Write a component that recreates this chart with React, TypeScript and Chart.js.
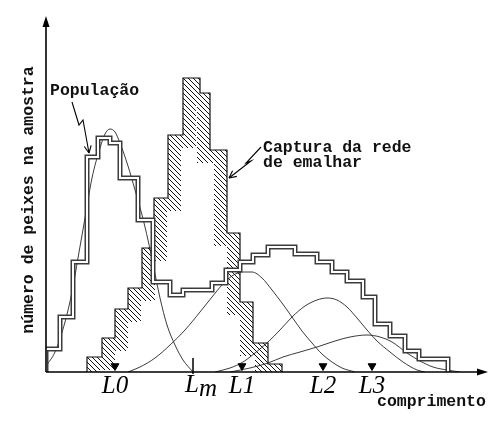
import React, { useEffect, useRef } from "react";
import { Chart, registerables } from "chart.js";

Chart.register(...registerables);

// ---- data (x = comprimento units, y = número de peixes units) ----
const popEdges = [0, 14, 27, 41, 52, 64, 74, 92, 107, 124, 137, 166, 180, 194, 207, 222, 249, 271, 286, 301, 317, 329, 344, 359, 373, 402];
const popCounts = [23, 55, 110, 215, 234, 229, 194, 152, 90, 77, 82, 89, 102, 110, 117, 125, 118, 110, 100, 91, 75, 48, 36, 21, 13];

const catchEdges = [41, 56, 69, 82, 96, 108, 122, 137, 154, 164, 181, 194, 207, 222, 236];
const catchCounts = [15, 34, 63, 84, 124, 174, 237, 294, 279, 222, 139, 70, 29, 8];

const cohort0X = [0, 9, 19, 26, 32, 39, 46, 54, 59, 64, 69, 74, 82, 89, 96, 102, 107, 114, 121, 129, 137, 147];
const cohort0Y = [6, 20, 50, 80, 114, 154, 194, 224, 238, 243, 240, 229, 206, 182, 157, 132, 108, 74, 47, 27, 12, 0];

const cohort1X = [82, 94, 109, 124, 139, 154, 166, 176, 186, 196, 206, 216, 226, 236, 246, 256, 266, 276, 286, 296, 309];
const cohort1Y = [0, 5, 14, 27, 42, 60, 75, 87, 96, 100, 100, 94, 82, 69, 55, 41, 29, 18, 10, 4, 0];

const cohort2X = [169, 184, 197, 209, 222, 234, 246, 259, 271, 281, 291, 301, 311, 321, 331, 344, 357, 371, 379];
const cohort2Y = [0, 4, 10, 19, 30, 42, 55, 66, 72, 74, 72, 65, 54, 42, 31, 20, 10, 2, 0];

const cohort3X = [184, 204, 222, 237, 254, 271, 289, 304, 321, 334, 346, 361, 374, 387, 401, 414];
const cohort3Y = [0, 4, 9, 15, 20, 25, 31, 35, 37, 35, 30, 19, 11, 5, 2, 0];

const markerLabels = ["L0", "L1", "L2", "L3"];
const markerX = [69, 196, 277, 326];
const lmX = 147;

const popArrowX = [26, 33, 37, 43];
const popArrowY = [270, 247, 252, 219];
const capArrowX = [215, 200, 205, 183];
const capArrowY = [225, 209, 211, 194];

const X_MAX = 442;
const Y_MAX = 356;

// points for a "step before" line: each count holds from its left edge to the next edge
function stepPoints(edges: number[], counts: number[]) {
  const d = [{ x: edges[0], y: 0 }, { x: edges[0], y: counts[0] }];
  counts.forEach((c, i) => d.push({ x: edges[i + 1], y: i + 1 < counts.length ? counts[i + 1] : 0 }));
  return d;
}
function curvePoints(xs: number[], ys: number[]) {
  return xs.map((x, i) => ({ x, y: ys[i] }));
}

export default function App() {
  const ref = useRef<HTMLCanvasElement>(null);

  useEffect(() => {
    const canvas = ref.current!;
    const mainCtx = canvas.getContext("2d")!;
    const tile = document.createElement("canvas");
    tile.width = 5;
    tile.height = 5;
    const g = tile.getContext("2d")!;
    g.strokeStyle = "#111";
    g.lineWidth = 1;
    g.beginPath();
    for (const k of [-1, 0, 1]) {
      g.moveTo(k * 5, 0);
      g.lineTo(k * 5 + 5, 5);
    }
    g.stroke();
    const hatch = mainCtx.createPattern(tile, "repeat")!;

    const hatchPlugin = {
      id: "hatchBand",
      beforeDatasetDraw(chart: any, args: any) {
        if (args.index !== 0) return;
        const pts = args.meta.data;
        const ctx = chart.ctx;
        const y0 = chart.scales.y.getPixelForValue(0);
        const path = new Path2D();
        path.moveTo(pts[0].x, pts[0].y);
        for (let i = 1; i < pts.length; i++) {
          path.lineTo(pts[i].x, pts[i - 1].y);
          path.lineTo(pts[i].x, pts[i].y);
        }
        const clip = new Path2D(path);
        clip.lineTo(pts[pts.length - 1].x, y0);
        clip.lineTo(pts[0].x, y0);
        clip.closePath();
        ctx.save();
        ctx.clip(clip);
        ctx.strokeStyle = hatch;
        ctx.lineWidth = 26;
        ctx.lineJoin = "miter";
        ctx.stroke(path);
        ctx.restore();
      },
    };

    const drawArrow = (ctx: CanvasRenderingContext2D, chart: any, xs: number[], ys: number[]) => {
      const sx = chart.scales.x, sy = chart.scales.y;
      const p = xs.map((x, i) => [sx.getPixelForValue(x), sy.getPixelForValue(ys[i])]);
      ctx.beginPath();
      ctx.moveTo(p[0][0], p[0][1]);
      for (let i = 1; i < p.length; i++) ctx.lineTo(p[i][0], p[i][1]);
      ctx.stroke();
      const a = p[p.length - 1], b = p[p.length - 2];
      const ang = Math.atan2(a[1] - b[1], a[0] - b[0]);
      ctx.beginPath();
      for (const s of [-1, 1]) {
        ctx.moveTo(a[0], a[1]);
        ctx.lineTo(a[0] - 8 * Math.cos(ang + s * 0.45), a[1] - 8 * Math.sin(ang + s * 0.45));
      }
      ctx.stroke();
    };

    const decorPlugin = {
      id: "decor",
      afterDatasetsDraw(chart: any) {
        const ctx: CanvasRenderingContext2D = chart.ctx;
        const { left, right, top, bottom } = chart.chartArea;
        ctx.save();
        ctx.strokeStyle = "#000";
        ctx.fillStyle = "#000";
        ctx.lineWidth = 1.6;
        ctx.beginPath();
        ctx.moveTo(left, bottom);
        ctx.lineTo(left, top + 9);
        ctx.moveTo(left, bottom);
        ctx.lineTo(right - 9, bottom);
        ctx.stroke();
        ctx.beginPath();
        ctx.moveTo(left, top);
        ctx.lineTo(left - 3.5, top + 11);
        ctx.lineTo(left + 3.5, top + 11);
        ctx.closePath();
        ctx.fill();
        ctx.beginPath();
        ctx.moveTo(right, bottom);
        ctx.lineTo(right - 11, bottom - 3.5);
        ctx.lineTo(right - 11, bottom + 3.5);
        ctx.closePath();
        ctx.fill();

        // annotation arrows
        ctx.lineWidth = 1.1;
        drawArrow(ctx, chart, popArrowX, popArrowY);
        drawArrow(ctx, chart, capArrowX, capArrowY);

        // texts
        const mono = 'bold 16.5px "Liberation Mono", "Courier New", monospace';
        ctx.fillStyle = "#111";
        ctx.font = mono;
        ctx.textBaseline = "alphabetic";
        ctx.textAlign = "left";
        ctx.fillText("População", 50, 95);
        ctx.fillText("Captura da rede", 263, 152);
        ctx.fillText("de emalhar", 263, 167);
        ctx.fillText("comprimento", 377, 406);
        ctx.save();
        ctx.translate(33, 200);
        ctx.rotate(-Math.PI / 2);
        ctx.textAlign = "center";
        ctx.fillText("número de peixes na amostra", 0, 0);
        ctx.restore();

        // L labels
        const sx = chart.scales.x;
        ctx.font = 'italic 25px "Liberation Serif", "DejaVu Serif", serif';
        ctx.fillStyle = "#000";
        ctx.textAlign = "center";
        markerLabels.forEach((t, i) => {
          ctx.fillText(t, sx.getPixelForValue(markerX[i]), 393);
        });
        const lm = sx.getPixelForValue(lmX);
        ctx.textAlign = "left";
        ctx.fillText("L", lm - 8, 392);
        ctx.fillText("m", lm + 6, 396);
        ctx.restore();
      },
    };

    const curveStyle = {
      borderColor: "rgba(25,25,25,0.85)",
      borderWidth: 1,
      cubicInterpolationMode: "monotone" as const,
      pointRadius: 0,
      fill: false,
      order: 4,
    };
    const popPts = stepPoints(popEdges, popCounts);

    const chart = new Chart(canvas, {
      type: "line",
      data: {
        datasets: [
          {
            label: "Captura da rede de emalhar",
            data: stepPoints(catchEdges, catchCounts),
            stepped: "before",
            borderColor: "#111",
            borderWidth: 1.2,
            pointRadius: 0,
            fill: false,
            order: 5,
          },
          { label: "coorte 0", data: curvePoints(cohort0X, cohort0Y), ...curveStyle },
          { label: "coorte 1", data: curvePoints(cohort1X, cohort1Y), ...curveStyle },
          { label: "coorte 2", data: curvePoints(cohort2X, cohort2Y), ...curveStyle },
          { label: "coorte 3", data: curvePoints(cohort3X, cohort3Y), ...curveStyle },
          {
            label: "População",
            data: popPts,
            stepped: "before",
            borderColor: "#3c3c3c",
            borderWidth: 5,
            borderJoinStyle: "miter",
            pointRadius: 0,
            fill: false,
            order: 3,
          },
          {
            label: "População (interior)",
            data: popPts,
            stepped: "before",
            borderColor: "#ffffff",
            borderWidth: 2,
            borderJoinStyle: "miter",
            pointRadius: 0,
            fill: false,
            order: 2,
          },
          {
            label: "L",
            data: markerX.map((x) => ({ x, y: 6 })),
            showLine: false,
            pointStyle: "triangle",
            rotation: 180,
            pointRadius: 4.5,
            backgroundColor: "#000",
            borderColor: "#000",
            borderWidth: 1,
            order: 1,
            clip: false,
          } as any,
          {
            label: "Lm",
            data: [{ x: lmX, y: 6 }],
            showLine: false,
            pointStyle: "line",
            rotation: 90,
            pointRadius: 8,
            borderColor: "#000",
            borderWidth: 1.5,
            order: 1,
            clip: false,
          } as any,
        ],
      },
      options: {
        animation: false,
        responsive: false,
        events: [],
        layout: { padding: { left: 46, top: 16, right: 12, bottom: 50 } },
        scales: {
          x: { type: "linear", min: 0, max: X_MAX, display: false },
          y: { type: "linear", min: 0, max: Y_MAX, display: false },
        },
        plugins: { legend: { display: false }, tooltip: { enabled: false } },
      },
      plugins: [hatchPlugin, decorPlugin],
    });
    return () => chart.destroy();
  }, []);

  return (
    <div style={{ position: "absolute", left: 0, top: 0, width: 500, height: 422, background: "#fff" }}>
      <canvas ref={ref} width={500} height={422} style={{ display: "block", width: 500, height: 422 }} />
    </div>
  );
}
